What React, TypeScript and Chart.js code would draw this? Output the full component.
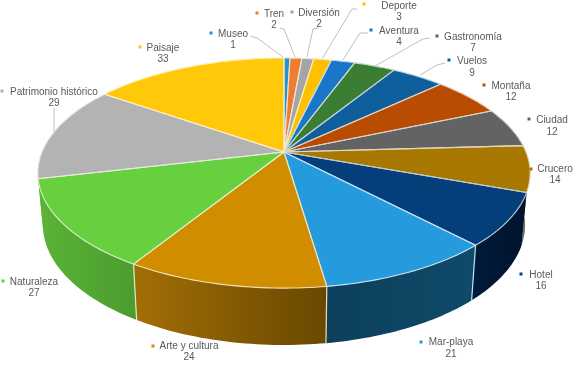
import React, { useEffect, useRef } from "react";
import { Chart, registerables } from "chart.js";

Chart.register(...registerables);

const categories = ["Museo", "Tren", "Diversión", "Deporte", "Aventura", "Gastronomía", "Vuelos", "Montaña", "Ciudad", "Crucero", "Hotel", "Mar-playa", "Arte y cultura", "Naturaleza", "Patrimonio histórico", "Paisaje"];
const values = [1, 2, 2, 3, 4, 7, 9, 12, 12, 14, 16, 21, 24, 27, 29, 33];
const topColors = ["#2a8fcf", "#ee7d31", "#a5a5a5", "#ffc000", "#1b75c8", "#3a7d33", "#0f5f9c", "#b84c00", "#636363", "#a87800", "#043f7c", "#259bdd", "#d18d00", "#68cf3f", "#b3b3b3", "#ffc90a"];
const wallLeft = ["#1c5f88", "#9c5220", "#6e6e6e", "#a87f00", "#124d84", "#264f22", "#0a3f68", "#7a3200", "#424242", "#77704e", "#001b3c", "#0c3f5c", "#a36e06", "#5ab437", "#5ab437", "#a88500"];
const wallRight = ["#1c5f88", "#9c5220", "#6e6e6e", "#a87f00", "#124d84", "#264f22", "#0a3f68", "#7a3200", "#424242", "#6a6a50", "#00142c", "#0f4a68", "#684800", "#4c9c2e", "#5ab437", "#a88500"];

// label layout: centre x, name y, value y, marker x, marker y
const labelLayout: number[][] = [
  [233, 34, 45, 211, 33], [274, 14, 25, 257, 13], [319, 13, 24, 292, 12], [399, 6, 17, 364, 4],
  [399, 31, 42, 371, 30], [473, 37, 48, 437, 36], [472, 61, 73, 449, 60], [511, 86, 97, 484, 85],
  [552, 120, 132, 529, 119], [555, 169, 180, 531, 169], [541, 275, 286, 521, 274], [451, 342, 354, 421, 342],
  [189, 346, 357, 153, 346], [34, 282, 293, 3, 281], [54, 92, 103, 2, 91], [163, 48, 59, 140, 47],
];
const leaderLines: number[][][] = [
  [[250, 36], [257, 38], [283, 57]], [[280, 28], [284, 29], [295, 57]], [[319, 28], [313, 29], [307, 57]],
  [[357, 9], [352, 9], [322, 59]], [[368, 33], [360, 33], [343, 60]], [[430, 38], [423, 39], [375, 66]],
  [[445, 63], [437, 65], [420, 75]], [[54, 108], [54, 132]],
];

const K = 0.183;
const topDisk = { cx: 284, cy: 152, a: 242, b: 111.2 };
const baseDisk = { cx: 284, cy: 203, a: 237, b: 116 };

function project(d: typeof topDisk, angle: number): [number, number] {
  const u = Math.cos(angle), v = Math.sin(angle);
  const w = 1 - K * v;
  return [d.cx + (d.a * u) / w, d.cy + (d.b * v) / w];
}

function arcPoints(d: typeof topDisk, a0: number, a1: number) {
  const n = Math.max(2, Math.ceil((a1 - a0) / 0.02));
  const pts: [number, number][] = [];
  for (let i = 0; i <= n; i++) pts.push(project(d, a0 + ((a1 - a0) * i) / n));
  return pts;
}

function mixWhite(hex: string, t: number) {
  const n = parseInt(hex.slice(1), 16);
  const f = (c: number) => Math.round(c + (255 - c) * t);
  return `rgb(${f((n >> 16) & 255)},${f((n >> 8) & 255)},${f(n & 255)})`;
}

const pie3d = {
  id: "pie3d",
  beforeDatasetDraw(chart: any) {
    const ctx: CanvasRenderingContext2D = chart.ctx;
    const arcs = chart.getDatasetMeta(0).data;
    const slices = arcs.map((el: any, i: number) => ({ i, s: el.startAngle, e: el.endAngle }));

    // side wall, far slices first
    const order = [...slices].sort((p: any, q: any) => Math.sin((p.s + p.e) / 2) - Math.sin((q.s + q.e) / 2));
    ctx.save();
    ctx.lineJoin = "round";
    for (const sl of order) {
      const top = arcPoints(topDisk, sl.s, sl.e);
      const base = arcPoints(baseDisk, sl.s, sl.e);
      const xs = [...top, ...base].map((p) => p[0]);
      const g = ctx.createLinearGradient(Math.min(...xs), 0, Math.max(...xs), 0);
      g.addColorStop(0, wallLeft[sl.i]);
      g.addColorStop(1, wallRight[sl.i]);
      ctx.beginPath();
      top.forEach((p, k) => (k ? ctx.lineTo(p[0], p[1]) : ctx.moveTo(p[0], p[1])));
      [...base].reverse().forEach((p) => ctx.lineTo(p[0], p[1]));
      ctx.closePath();
      ctx.fillStyle = g;
      ctx.fill();
    }
    // seams between the front walls
    for (const sl of slices) {
      const sn = Math.sin(sl.s);
      if (sn < 0.35) continue;
      const a = project(topDisk, sl.s), b = project(baseDisk, sl.s);
      ctx.beginPath();
      ctx.moveTo(a[0], a[1]);
      ctx.lineTo(b[0], b[1]);
      ctx.strokeStyle = mixWhite(topColors[sl.i], 0.7);
      ctx.lineWidth = 1.2;
      ctx.stroke();
    }
    // top face
    for (const sl of slices) {
      ctx.beginPath();
      ctx.moveTo(topDisk.cx, topDisk.cy);
      arcPoints(topDisk, sl.s, sl.e).forEach((p) => ctx.lineTo(p[0], p[1]));
      ctx.closePath();
      ctx.fillStyle = topColors[sl.i];
      ctx.fill();
    }
    for (const sl of slices) {
      ctx.beginPath();
      ctx.moveTo(topDisk.cx, topDisk.cy);
      arcPoints(topDisk, sl.s, sl.e).forEach((p) => ctx.lineTo(p[0], p[1]));
      ctx.closePath();
      ctx.strokeStyle = mixWhite(topColors[sl.i], 0.72);
      ctx.lineWidth = 1.1;
      ctx.stroke();
    }
    ctx.restore();
    return false;
  },
  afterDatasetsDraw(chart: any) {
    const ctx: CanvasRenderingContext2D = chart.ctx;
    ctx.save();
    ctx.strokeStyle = "#bfbfbf";
    ctx.lineWidth = 1;
    for (const line of leaderLines) {
      ctx.beginPath();
      line.forEach((p, k) => (k ? ctx.lineTo(p[0], p[1]) : ctx.moveTo(p[0], p[1])));
      ctx.stroke();
    }
    ctx.font = '10px "Liberation Sans", Arial, sans-serif';
    ctx.textAlign = "center";
    ctx.textBaseline = "middle";
    categories.forEach((name, i) => {
      const [x, y1, y2, mx, my] = labelLayout[i];
      ctx.fillStyle = "#595959";
      ctx.fillText(name, x, y1);
      ctx.fillText(String(values[i]), x, y2);
      ctx.fillStyle = topColors[i];
      ctx.fillRect(mx - 1.5, my - 1.5, 3, 3);
    });
    ctx.restore();
  },
};

export default function App() {
  const ref = useRef<HTMLCanvasElement>(null);
  useEffect(() => {
    const chart = new Chart(ref.current as HTMLCanvasElement, {
      type: "pie",
      data: { labels: categories, datasets: [{ data: values, backgroundColor: topColors, borderWidth: 0 }] },
      options: {
        responsive: false,
        animation: false,
        plugins: { legend: { display: false }, tooltip: { enabled: false } },
      },
      plugins: [pie3d],
    } as any);
    return () => chart.destroy();
  }, []);
  return (
    <div style={{ position: "fixed", left: 0, top: 0, width: 578, height: 365, background: "#fff" }}>
      <canvas ref={ref} width={578} height={365} style={{ display: "block" }} />
    </div>
  );
}
